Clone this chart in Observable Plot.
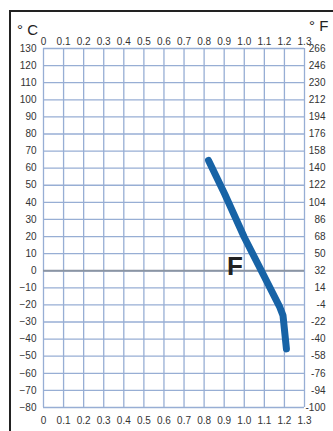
<!DOCTYPE html>
<html><head><meta charset="utf-8">
<script src="https://cdn.jsdelivr.net/npm/d3@7"></script>
<script src="https://cdn.jsdelivr.net/npm/@observablehq/plot@0.6"></script>
<style>
body{margin:0;background:#fff;}
#wrap{position:relative;width:333px;height:431px;overflow:hidden;background:#fff;}
#wrap svg{position:absolute;left:0;top:0;}
#frame{position:absolute;left:9px;top:10px;width:400px;height:500px;border-left:2px solid #222;border-top:2px solid #222;}
.unit{position:absolute;font-family:"Liberation Sans",Arial,sans-serif;font-size:15px;color:#222;white-space:nowrap;}
</style></head>
<body><div id="wrap"></div>
<script>
const xTicks = [0, 0.1, 0.2, 0.3, 0.4, 0.5, 0.6, 0.7, 0.8, 0.9, 1.0, 1.1, 1.2, 1.3];
const xLabels = ["0", "0.1", "0.2", "0.3", "0.4", "0.5", "0.6", "0.7", "0.8", "0.9", "1.0", "1.1", "1.2", "1.3"];
const cTicks = [130, 120, 110, 100, 90, 80, 70, 60, 50, 40, 30, 20, 10, 0, -10, -20, -30, -40, -50, -60, -70, -80];
const fLabels = ["266", "246", "230", "212", "194", "176", "158", "140", "122", "104", "86", "68", "50", "32", "14", "-4", "-22", "-40", "-58", "-76", "-94", "-100"];
const curveX = [0.822, 0.902, 1.0, 1.093, 1.177, 1.193, 1.21];
const curveC = [64.5, 45, 19.6, -1.8, -21.3, -26.2, -45.7];
const seriesName = "F";
const seriesLabelX = 0.953;
const seriesLabelC = 2.5;
const unitLeft = "°\u00a0C";
const unitRight = "°\u00a0F";

const curve = curveX.map((x, i) => ({x, c: curveC[i]}));
const fmtFrom = (ticks, labels) => d => labels[ticks.findIndex(t => Math.abs(t - d) < 1e-9)];

const chart = Plot.plot({
  width: 333, height: 431,
  marginLeft: 43, marginRight: 29, marginTop: 48, marginBottom: 24,
  x: {domain: [0, 1.3]},
  y: {domain: [-80, 130]},
  style: {fontFamily: '"Liberation Sans Narrow","Liberation Sans",Arial,sans-serif', fontSize: "10px", color: "#333", background: "transparent"},
  marks: [
    Plot.gridX(xTicks, {stroke: "#97aed4", strokeOpacity: 1, strokeWidth: 1.3}),
    Plot.gridY(cTicks, {stroke: "#97aed4", strokeOpacity: 1, strokeWidth: 1.3}),
    Plot.ruleY([0], {stroke: "#8b95a3", strokeWidth: 2}),
    Plot.axisX({anchor: "top", ticks: xTicks, tickSize: 0, tickPadding: 4, tickFormat: fmtFrom(xTicks, xLabels), label: null}),
    Plot.axisX({anchor: "bottom", ticks: xTicks, tickSize: 0, tickPadding: 9, tickFormat: fmtFrom(xTicks, xLabels), label: null}),
    Plot.axisY({anchor: "left", ticks: cTicks, tickSize: 0, tickPadding: 7, label: null}),
    Plot.axisY({anchor: "right", ticks: cTicks, tickSize: 0, tickPadding: 21, textAnchor: "end", tickFormat: fmtFrom(cTicks, fLabels), label: null}),
    Plot.line(curve, {x: "x", y: "c", stroke: "#1763a6", strokeWidth: 7, strokeLinejoin: "round"}),
    Plot.text([{x: seriesLabelX, c: seriesLabelC, t: seriesName}], {x: "x", y: "c", text: "t", fontSize: 26, fontWeight: "bold", fill: "#222", fontFamily: '"Liberation Sans",Arial,sans-serif'})
  ]
});
const wrap = document.getElementById("wrap");
wrap.appendChild(chart);
const frame = document.createElement("div"); frame.id = "frame"; wrap.appendChild(frame);
const u1 = document.createElement("div"); u1.className = "unit"; u1.style.left = "17px"; u1.style.top = "21px"; u1.textContent = unitLeft; wrap.appendChild(u1);
const u2 = document.createElement("div"); u2.className = "unit"; u2.style.left = "309px"; u2.style.top = "17px"; u2.textContent = unitRight; wrap.appendChild(u2);
</script>
</body></html>
